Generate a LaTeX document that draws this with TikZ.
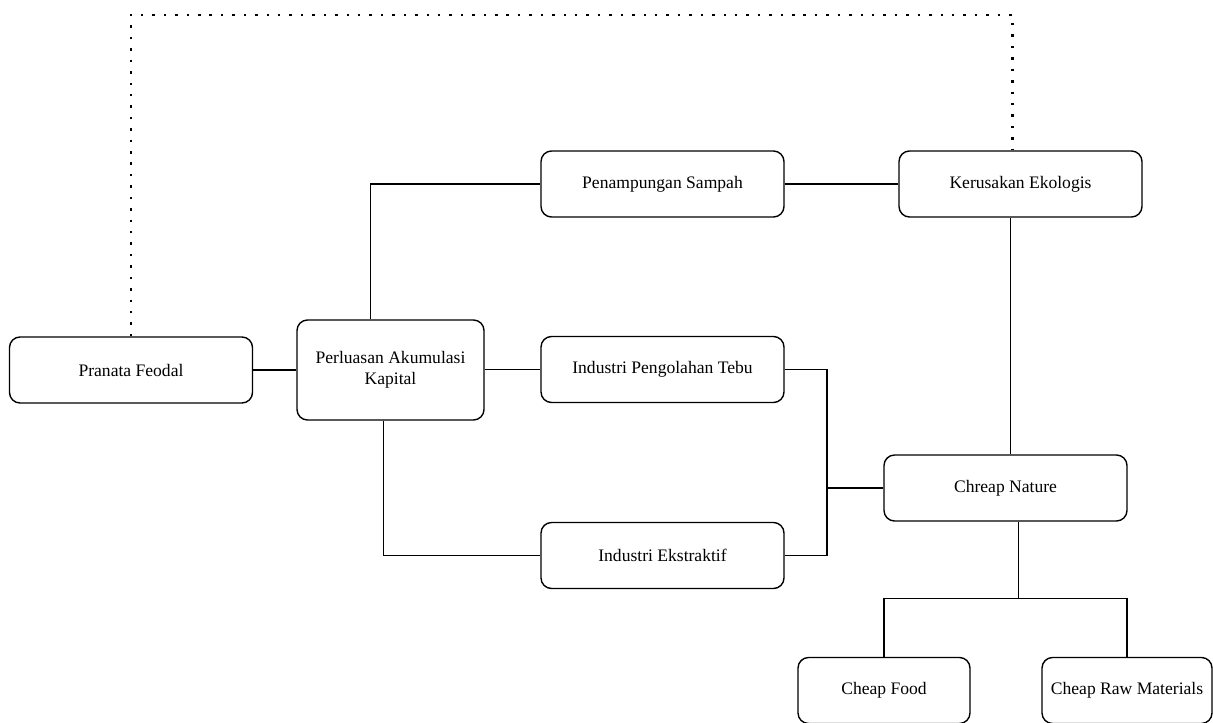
\documentclass[tikz,border=0pt]{standalone}
\usepackage{fontspec}
\setmainfont{Liberation Serif}
\usepackage{tikz}
\usetikzlibrary{calc,positioning}

\begin{document}
\begin{tikzpicture}[line width=0.8pt,
  box/.style={draw, rounded corners=6pt, minimum width=4.86cm, minimum height=1.32cm,
    align=center, font=\fontsize{10}{12}\selectfont},
  dots/.style={line width=1.3pt, dash pattern=on 1.4pt off 5.1pt}]
  \useasboundingbox (0,0) rectangle (24.26,-14.44);
  \node[box](feodal)at(2.62,-7.40){Pranata Feodal};
  \node[box, minimum width=3.74cm, minimum height=2cm](akum)at(7.81,-7.40){Perluasan Akumulasi\\Kapital};
  \node[box](sampah)at(13.25,-3.68){Penampungan Sampah};
  \node[box](ker)at(20.41,-3.68){Kerusakan Ekologis};
  \node[box](tebu)at(13.25,-7.39){Industri Pengolahan Tebu};
  \node[box](ekstr)at(13.25,-11.11){Industri Ekstraktif};
  \node[box](nature)at(20.11,-9.76){Chreap Nature};
  \node[box, minimum width=3.44cm](food)at(17.68,-13.81){Cheap Food};
  \node[box, minimum width=3.4cm](raw)at(22.54,-13.81){Cheap Raw Materials};
  \coordinate(join)at(16.54,-9.76);
  \draw(feodal)--(akum);
  \draw([xshift=-4mm]akum.north)|-(sampah.west);
  \draw(sampah)--(ker);
  \draw(akum.east|-tebu.west)--(tebu.west);
  \draw([xshift=-1.4mm]akum.south)|-(ekstr.west);
  \draw(tebu.east)-|(join)|-(ekstr.east);
  \draw(join)--(nature.west);
  \draw([xshift=-2mm]ker.south)--([xshift=-2mm]ker.south|-nature.north);
  \draw([xshift=2.6mm]nature.south)--++(0,-1.54)coordinate(fork);
  \draw(food.north)|-(fork)-|(raw.north);
  \draw[dots](feodal.north)--(feodal.north|-0,-0.3)-|([xshift=-1.6mm]ker.north);
\end{tikzpicture}
\end{document}
